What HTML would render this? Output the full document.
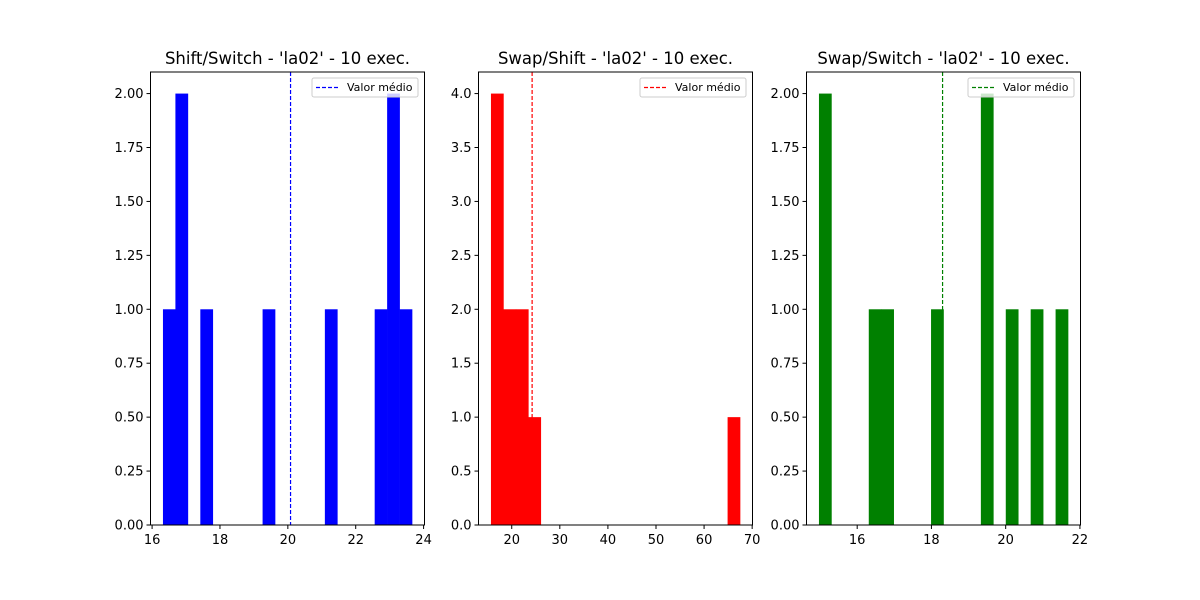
<!DOCTYPE html>
<html><head><meta charset="utf-8"><style>
html,body{margin:0;padding:0;background:#fff;}
svg{display:block;font-family:"DejaVu Sans","Liberation Sans",sans-serif;}
</style></head><body>
<svg id="fig" width="1200" height="600" viewBox="0 0 1200 600" xmlns="http://www.w3.org/2000/svg"></svg>
<script>
// Panel data
const titles = ["Shift/Switch - 'la02' - 10 exec.", "Swap/Shift - 'la02' - 10 exec.", "Swap/Switch - 'la02' - 10 exec."];
const colors = ["#0000ff", "#ff0000", "#008000"];
const binStart = [16.32, 15.68, 14.97];
const binEnd = [23.66, 67.48, 21.68];
const countsShiftSwitch = [1,2,0,1,0,0,0,0,1,0,0,0,0,1,0,0,0,1,2,1];
const countsSwapShift = [4,2,2,1,0,0,0,0,0,0,0,0,0,0,0,0,0,0,0,1];
const countsSwapSwitch = [2,0,0,0,1,1,0,0,0,1,0,0,0,2,0,1,0,1,0,1];
const meanValues = [20.08, 24.24, 18.3];
const xTicks1 = [16,18,20,22,24];
const xTicks2 = [20,30,40,50,60,70];
const xTicks3 = [16,18,20,22];
const yTicks1 = [0,0.25,0.5,0.75,1,1.25,1.5,1.75,2];
const yTicks2 = [0,0.5,1,1.5,2,2.5,3,3.5,4];
const yTicks3 = [0,0.25,0.5,0.75,1,1.25,1.5,1.75,2];
const yDecimals = [2,1,2];
const legendLabel = "Valor médio";

const allCounts = [countsShiftSwitch, countsSwapShift, countsSwapSwitch];
const allXTicks = [xTicks1, xTicks2, xTicks3];
const allYTicks = [yTicks1, yTicks2, yTicks3];
const panelLeft = [150.5, 478.5, 806.5];
const W = 274, TOP = 72, BOT = 525;
const NS = "http://www.w3.org/2000/svg";
const svg = document.getElementById('fig');
function mk(tag, attrs, parent) {
  const e = document.createElementNS(NS, tag);
  for (const k in attrs) e.setAttribute(k, attrs[k]);
  (parent || svg).appendChild(e);
  return e;
}
for (let p = 0; p < 3; p++) {
  const g = mk('g', {});
  
  
  const counts = allCounts[p];
  const n = counts.length;
  const lo = binStart[p], hi = binEnd[p];
  const span = hi - lo;
  const xmin = lo - 0.05 * span, xmax = hi + 0.05 * span;
  const ymax = Math.max(...counts) * 1.05;
  const L = panelLeft[p];
  const X = v => L + (v - xmin) / (xmax - xmin) * W;
  const Y = v => BOT - v / ymax * (BOT - TOP);
  const bw = span / n;
  for (let i = 0; i < n; i++) {
    if (!counts[i]) continue;
    const x0 = X(lo + i * bw), x1 = X(lo + (i + 1) * bw);
    const r = mk('rect', {x: x0, y: Y(counts[i]), width: x1 - x0 + 0.3, height: BOT - Y(counts[i]), fill: colors[p]}, g);
    
    
  }
  const mx = X(meanValues[p]);
  const ml = mk('line', {x1: mx, x2: mx, y1: TOP, y2: BOT, stroke: colors[p], 'stroke-width': 1.2, 'stroke-dasharray': '4,2'}, g);
  
  
  const fr = mk('rect', {x: L, y: TOP, width: W, height: BOT - TOP, fill: 'none', stroke: '#000', 'stroke-width': 1}, g);
  
  
  allXTicks[p].forEach(t => {
    const x = X(t);
    mk('line', {x1: x, x2: x, y1: BOT, y2: BOT + 4, stroke: '#000'}, g);
    const tx = mk('text', {x: x, y: BOT + 19, 'font-size': 13, 'text-anchor': 'middle', fill: '#000'}, g);
    tx.textContent = t;
    
    
  });
  allYTicks[p].forEach(t => {
    const y = Y(t);
    mk('line', {x1: L - 4, x2: L, y1: y, y2: y, stroke: '#000'}, g);
    const tx = mk('text', {x: L - 7, y: y + 4.5, 'font-size': 13, 'text-anchor': 'end', fill: '#000'}, g);
    tx.textContent = t.toFixed(yDecimals[p]);
    
    
  });
  const ti = mk('text', {x: L + W / 2, y: 64, 'font-size': 16.5, 'text-anchor': 'middle', fill: '#000'}, g);
  ti.textContent = titles[p];
  
  
  const lg = mk('g', {}, g);
  
  
  const lx = L + W - 112.5, ly = 78;
  mk('rect', {x: lx, y: ly, width: 106, height: 19, rx: 2, fill: '#fff', 'fill-opacity': 0.8, stroke: '#ccc'}, lg);
  mk('line', {x1: lx + 4, x2: lx + 26, y1: ly + 9.5, y2: ly + 9.5, stroke: colors[p], 'stroke-width': 1.2, 'stroke-dasharray': '4,2'}, lg);
  const lt = mk('text', {x: lx + 35, y: ly + 13, 'font-size': 11, fill: '#000'}, lg);
  lt.textContent = legendLabel;
}
</script>
</body></html>
